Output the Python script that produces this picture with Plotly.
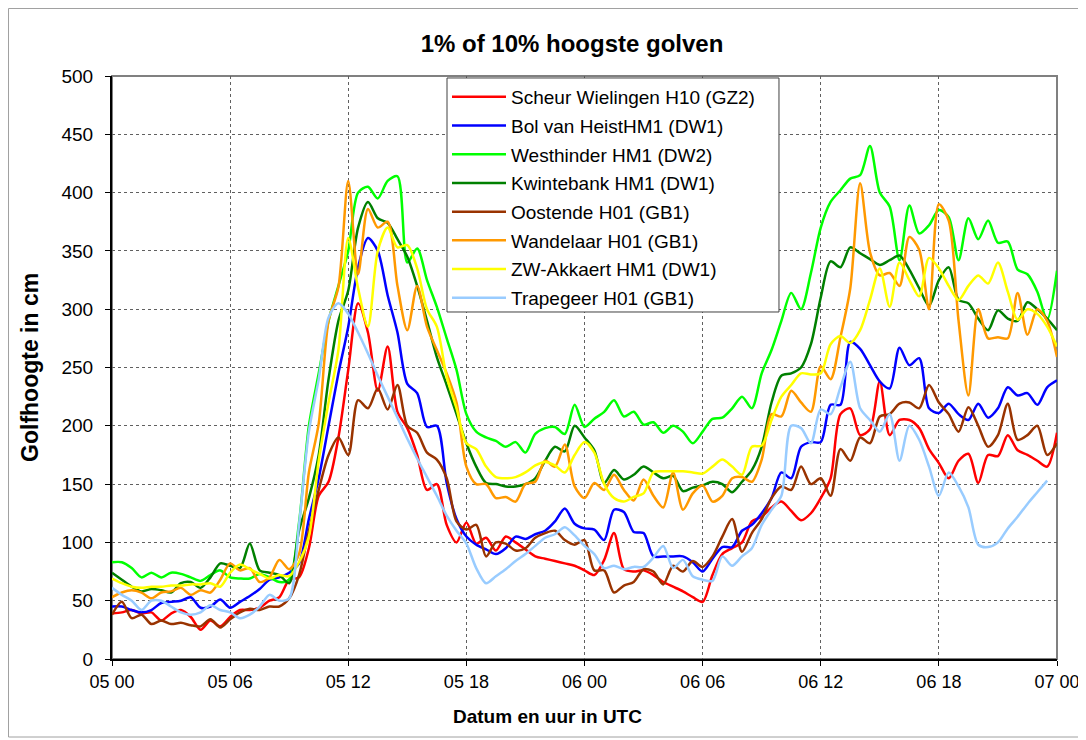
import plotly.graph_objects as go

# time axis: hours after 05 00 UTC, every 30 minutes
hours = [i * 0.5 for i in range(97)]
tick_hours = [0, 6, 12, 18, 24, 30, 36, 42, 48]
tick_labels = ["05 00", "05 06", "05 12", "05 18", "06 00", "06 06", "06 12", "06 18", "07 00"]

scheur = [39, 40, 42, 39, 40, 33, 39, 42, 36, 25, 33, 28, 36, 42, 42, 44, 50, 53, 68, 70,
          95, 140, 152, 190, 248, 305, 280, 230, 268, 212, 198, 175, 145, 150, 115, 100, 117, 99, 104, 93,
          105, 100, 94, 88, 86, 84, 82, 80, 76, 72, 85, 108, 77, 75, 76, 72, 66, 62, 58, 53,
          49, 72, 90, 95, 100, 118, 122, 130, 135, 127, 119, 125, 138, 155, 210, 215, 192, 197, 238, 192,
          205, 205, 198, 180, 168, 155, 170, 176, 151, 175, 174, 192, 179, 175, 170, 165, 194]

bol = [45, 45, 42, 40, 42, 48, 49, 50, 53, 44, 45, 51, 44, 49, 54, 60, 68, 70, 74, 82,
       120, 155, 200, 245, 285, 336, 361, 350, 312, 280, 236, 228, 199, 200, 151, 120, 105, 98, 94, 90,
       95, 105, 103, 107, 110, 118, 129, 116, 112, 111, 102, 128, 126, 109, 108, 88, 88, 88, 88, 83,
       75, 86, 96, 96, 110, 115, 125, 138, 160, 155, 182, 186, 186, 218, 218, 272, 266, 252, 238, 232,
       267, 252, 258, 215, 211, 219, 210, 205, 219, 207, 215, 233, 226, 228, 218, 233, 239]

westhinder = [83, 83, 78, 70, 74, 70, 74, 73, 70, 67, 72, 76, 70, 69, 69, 73, 70, 66, 68, 117,
              200, 245, 290, 320, 350, 400, 405, 395, 410, 414, 340, 352, 325, 302, 275, 248, 210, 195, 190, 187,
              182, 186, 177, 193, 198, 199, 193, 218, 199, 206, 212, 222, 208, 212, 201, 203, 194, 200, 195, 185,
              195, 206, 207, 215, 225, 215, 245, 265, 290, 314, 300, 331, 370, 392, 402, 412, 415, 440, 400, 388,
              342, 389, 365, 372, 385, 379, 342, 378, 360, 376, 357, 358, 334, 330, 315, 291, 333]

kwintebank = [74, 68, 62, 58, 60, 59, 57, 65, 66, 61, 70, 82, 80, 78, 99, 76, 74, 72, 65, 110,
              138, 175, 240, 290, 316, 370, 392, 378, 374, 360, 345, 320, 290, 259, 235, 210, 185, 165, 151, 150,
              148, 148, 150, 155, 170, 182, 178, 200, 190, 179, 151, 162, 154, 158, 165, 160, 155, 157, 144, 147,
              149, 152, 150, 143, 152, 162, 182, 220, 243, 245, 250, 270, 310, 341, 336, 353, 348, 343, 338, 342,
              346, 334, 318, 303, 325, 336, 308, 305, 292, 282, 299, 292, 290, 306, 300, 292, 282]

oostende = [38, 49, 35, 38, 30, 33, 30, 31, 29, 28, 34, 27, 34, 40, 43, 42, 45, 45, 52, 72,
            110, 145, 175, 190, 175, 222, 215, 232, 214, 235, 200, 194, 177, 171, 155, 118, 111, 115, 88, 100,
            99, 93, 95, 104, 108, 110, 102, 98, 102, 76, 76, 57, 63, 66, 77, 75, 64, 80, 75, 84,
            79, 88, 105, 120, 92, 108, 120, 138, 148, 145, 165, 150, 155, 140, 180, 170, 190, 185, 208, 210,
            219, 220, 215, 235, 220, 210, 195, 216, 200, 182, 192, 219, 188, 192, 200, 175, 185]

wandelaar = [53, 57, 59, 57, 52, 57, 58, 61, 55, 59, 57, 68, 82, 76, 78, 66, 70, 85, 77, 90,
             160, 202, 290, 319, 410, 330, 386, 370, 375, 320, 282, 320, 285, 265, 245, 220, 165, 150, 150, 138,
             139, 135, 150, 152, 170, 165, 184, 148, 138, 151, 145, 158, 145, 136, 154, 140, 130, 160, 128, 142,
             149, 135, 140, 155, 156, 152, 171, 210, 208, 230, 220, 212, 251, 240, 276, 318, 408, 349, 329, 331,
             320, 362, 351, 300, 390, 376, 290, 226, 300, 275, 276, 275, 314, 278, 300, 290, 259]

akkaert = [69, 65, 62, 61, 62, 62, 63, 63, 64, 64, 65, 62, 74, 81, 77, 73, 69, 72, 71, 83,
           105, 170, 220, 265, 361, 318, 285, 350, 370, 353, 355, 335, 300, 285, 242, 215, 185, 180, 165, 156,
           155, 156, 160, 166, 169, 166, 160, 175, 186, 177, 150, 138, 135, 139, 142, 160, 161, 161, 161, 160,
           159, 165, 171, 165, 158, 182, 183, 205, 225, 235, 245, 244, 245, 270, 277, 271, 282, 308, 335, 302,
           340, 325, 311, 344, 335, 320, 308, 320, 329, 322, 340, 315, 291, 300, 296, 285, 268]

trapegeer = [61, 55, 50, 42, 50, 50, 45, 40, 38, 40, 46, 42, 40, 35, 38, 45, 55, 50, 52, 115,
             195, 240, 293, 305, 296, 280, 262, 243, 225, 207, 189, 172, 156, 140, 123, 110, 99, 78, 65, 71,
             77, 84, 90, 97, 104, 107, 113, 106, 97, 90, 78, 80, 77, 79, 79, 87, 97, 78, 85, 71,
             68, 67, 88, 80, 88, 95, 115, 128, 140, 200, 198, 185, 214, 210, 233, 255, 215, 205, 195, 210,
             170, 200, 188, 165, 140, 160, 148, 130, 98, 96, 100, 112, 122, 133, 143, 153, None]

series = [
    ("Scheur Wielingen H10 (GZ2)", scheur, "#FF0000"),
    ("Bol van HeistHM1 (DW1)", bol, "#0000FF"),
    ("Westhinder HM1 (DW2)", westhinder, "#00FF00"),
    ("Kwintebank HM1 (DW1)", kwintebank, "#008000"),
    ("Oostende H01 (GB1)", oostende, "#993300"),
    ("Wandelaar H01 (GB1)", wandelaar, "#FF9900"),
    ("ZW-Akkaert HM1 (DW1)", akkaert, "#FFFF00"),
    ("Trapegeer H01 (GB1)", trapegeer, "#99CCFF"),
]

FONT = "Liberation Sans, Arial, sans-serif"

fig = go.Figure()
for i, (name, vals, col) in enumerate(series):
    fig.add_trace(go.Scatter(
        x=hours, y=vals, name=name, mode="lines",
        line=dict(color=col, width=2.5, shape="spline", smoothing=0.8),
        legendgroup=f"g{i}", connectgaps=False,
    ))

# plot area frame (grey top/right) and outer chart border
fig.add_shape(type="rect", xref="paper", yref="paper", x0=0, y0=0, x1=1, y1=1,
              line=dict(color="#808080", width=2), layer="below")
fig.add_shape(type="rect", xref="paper", yref="paper",
              x0=-0.1095, y0=-0.1338, x1=1.0265, y1=1.1158,
              line=dict(color="#A0A0A0", width=1), layer="below")
# legend box (white panel with dark border, drawn above the lines; legend entries sit on top)
fig.add_shape(type="rect", xref="paper", yref="paper",
              x0=0.3545, y0=0.5952, x1=0.7058, y1=0.9966,
              line=dict(color="#404040", width=1), fillcolor="white", layer="above")

# axis titles
fig.add_annotation(text="<b>Datum en uur in UTC</b>", xref="paper", yref="paper",
                   x=0.461, y=-0.0978, xanchor="center", yanchor="middle", showarrow=False,
                   font=dict(family=FONT, size=19, color="black"))
fig.add_annotation(text="<b>Golfhoogte in cm</b>", xref="paper", yref="paper",
                   x=-0.0868, y=0.5009, xanchor="center", yanchor="middle", showarrow=False,
                   textangle=-90, font=dict(family=FONT, size=23, color="black"))

fig.update_layout(
    width=1078, height=732,
    margin=dict(l=104, r=29, t=68, b=81, autoexpand=False),
    paper_bgcolor="white", plot_bgcolor="white",
    font=dict(family=FONT, size=19, color="black"),
    title=dict(text="<b>1% of 10% hoogste golven</b>", x=564 / 1078, xref="container", xanchor="center",
               y=1 - 36 / 732, yref="container", yanchor="middle",
               font=dict(family=FONT, size=24, color="black")),
    showlegend=True,
    legend=dict(x=0.3545, y=0.9966, xanchor="left", yanchor="top",
                bgcolor="rgba(0,0,0,0)", borderwidth=0,
                font=dict(family=FONT, size=19, color="black"),
                tracegroupgap=1, itemwidth=54),
)

fig.update_xaxes(
    range=[0, 48], tickvals=tick_hours, ticktext=tick_labels,
    tickfont=dict(family=FONT, size=18), automargin=False,
    showgrid=True, gridcolor="#606060", griddash="dot", gridwidth=1,
    showline=True, linecolor="black", linewidth=2,
    ticks="outside", ticklen=5, tickcolor="black",
    zeroline=False,
)
fig.update_yaxes(
    range=[0, 500], tickvals=list(range(0, 501, 50)),
    tickfont=dict(family=FONT, size=19), automargin=False, ticklabelstandoff=8,
    showgrid=True, gridcolor="#606060", griddash="dot", gridwidth=1,
    showline=True, linecolor="black", linewidth=2,
    ticks="outside", ticklen=5, tickcolor="black",
    zeroline=False,
)

fig.write_html("out.html")
